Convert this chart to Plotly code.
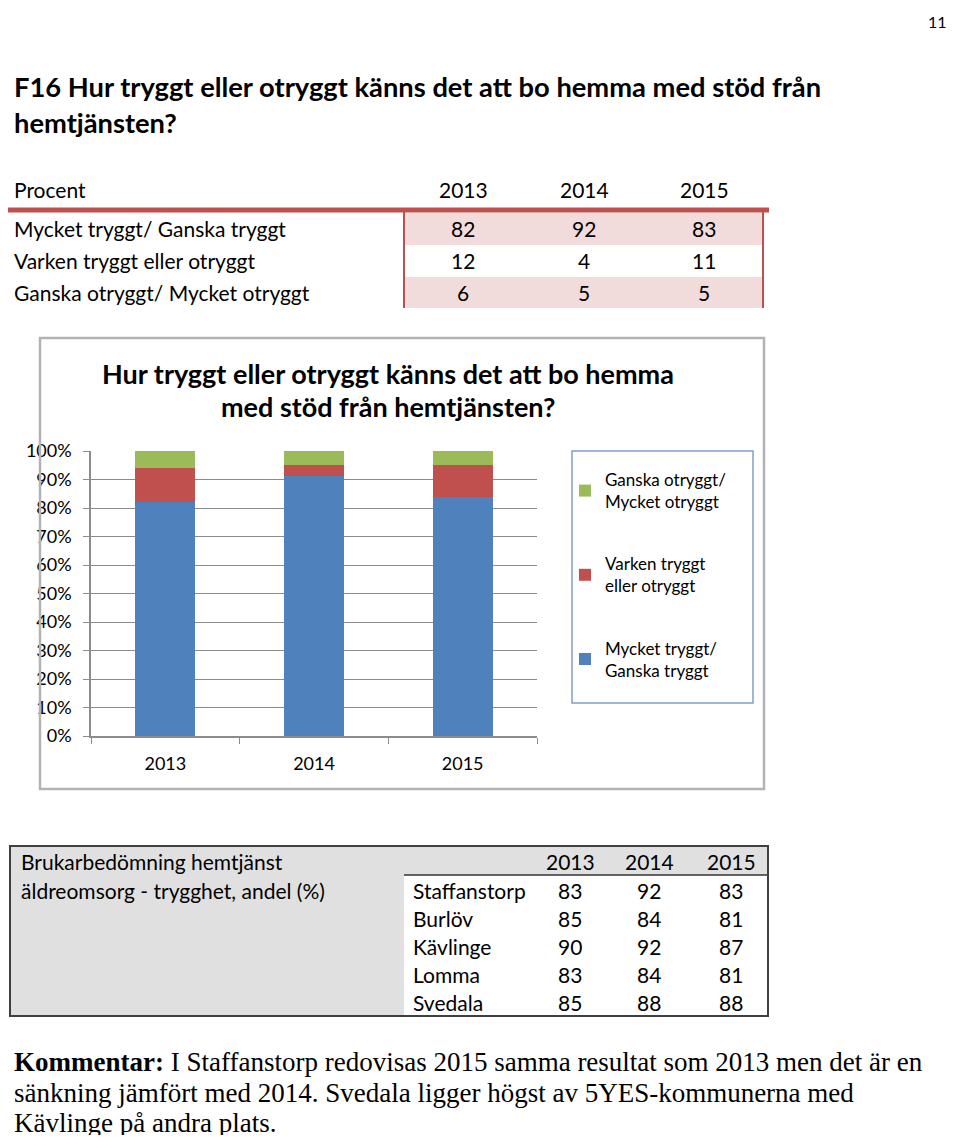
import plotly.graph_objects as go

# ---------------- data ----------------
years = ["2013", "2014", "2015"]
resp_labels = ["Mycket tryggt/ Ganska tryggt", "Varken tryggt eller otryggt", "Ganska otryggt/ Mycket otryggt"]
legend_labels = ["Mycket tryggt/<br>Ganska tryggt", "Varken tryggt<br>eller otryggt", "Ganska otryggt/<br>Mycket otryggt"]
trygg = [82, 92, 83]
varken = [12, 4, 11]
otrygg = [6, 5, 5]
bar_colors = ["#4f81bd", "#c0504d", "#9bbb59"]

municipalities = ["Staffanstorp", "Burlöv", "Kävlinge", "Lomma", "Svedala"]
muni_2013 = [83, 85, 90, 83, 85]
muni_2014 = [92, 84, 92, 84, 88]
muni_2015 = [83, 81, 87, 81, 88]

page_title_lines = ["F16 Hur tryggt eller otryggt känns det att bo hemma med stöd från", "hemtjänsten?"]
chart_title_lines = ["Hur tryggt eller otryggt känns det att bo hemma", "med stöd från hemtjänsten?"]
table2_title = ["Brukarbedömning hemtjänst", "äldreomsorg - trygghet, andel (%)"]
comment_bold = "Kommentar:"
comment_lines = [" I Staffanstorp redovisas 2015 samma resultat som 2013 men det är en",
                 "sänkning jämfört med 2014. Svedala ligger högst av 5YES-kommunerna med",
                 "Kävlinge på andra plats."]

# page is 960x1148; browser body margin of 8px surrounds the figure
M = 8
W, H = 960 - 2 * M, 1148 - 2 * M
def px(x):
    return (x - M) / W
def py(y):
    return 1 - (y - M) / H

SANS = "Lato"
SERIF = "Liberation Serif"

fig = go.Figure()
series = [trygg, varken, otrygg]
ranks = [3, 2, 1]
for i in range(3):
    fig.add_trace(go.Bar(
        x=years, y=series[i], name=legend_labels[i],
        marker=dict(color=bar_colors[i], line=dict(width=0)),
        legendgroup=str(i), legendrank=ranks[i], hoverinfo="skip",
    ))

ann = []
shapes = []

def text(x, y, s, size, anchor="left", bold=False, family=SANS, color="#000", yanchor="middle", height=None):
    if bold:
        s = "<b>" + s + "</b>"
    d = dict(x=px(x), y=py(y), xref="paper", yref="paper", text=s, showarrow=False,
             xanchor=anchor, yanchor=yanchor, font=dict(size=size, family=family, color=color))
    if height is not None:
        d["height"] = height
        d["valign"] = "middle"
    ann.append(d)

# page number & title
text(949, 10, "11", 16, anchor="right", yanchor="top")
text(12, 86, page_title_lines[0], 27.3, bold=True)
text(12, 122, page_title_lines[1], 27.3, bold=True)

# ---------------- top table ----------------
col_x = [463, 584, 704]
row_y = [228, 260, 292]
shapes.append(dict(type="rect", xref="paper", yref="paper", x0=px(404), x1=px(763), y0=py(213), y1=py(245),
                   fillcolor="#f2dcdb", line=dict(width=0), layer="below"))
shapes.append(dict(type="rect", xref="paper", yref="paper", x0=px(404), x1=px(763), y0=py(277), y1=py(308),
                   fillcolor="#f2dcdb", line=dict(width=0), layer="below"))
shapes.append(dict(type="line", xref="paper", yref="paper", x0=px(0), x1=px(769), y0=py(210), y1=py(210),
                   line=dict(color="#c0504d", width=5)))
for xv in (404, 763):
    shapes.append(dict(type="line", xref="paper", yref="paper", x0=px(xv), x1=px(xv), y0=py(210), y1=py(308),
                       line=dict(color="#c0504d", width=2)))
text(12, 189, "Procent", 21)
for j, yr in enumerate(years):
    text(col_x[j], 189, yr, 21, anchor="center")
for i, lab in enumerate(resp_labels):
    text(12, row_y[i], lab, 21)
    for j in range(3):
        text(col_x[j], row_y[i], str(series[i][j]), 21, anchor="center")

# ---------------- chart frame ----------------
shapes.append(dict(type="rect", xref="paper", yref="paper", x0=px(40), x1=px(764), y0=py(338), y1=py(789),
                   line=dict(color="#b3b3b3", width=2.5), fillcolor="rgba(0,0,0,0)"))
shapes.append(dict(type="rect", xref="paper", yref="paper", x0=px(572), x1=px(753), y0=py(451), y1=py(703),
                   line=dict(color="#7f9fcb", width=1.5), fillcolor="rgba(0,0,0,0)"))
text(388, 373, chart_title_lines[0], 27, anchor="center", bold=True)
text(388, 406, chart_title_lines[1], 27, anchor="center", bold=True)

# ---------------- bottom table ----------------
shapes.append(dict(type="rect", xref="paper", yref="paper", x0=px(10), x1=px(768), y0=py(846), y1=py(1016),
                   fillcolor="#e0e0e0", line=dict(width=0), layer="below"))
shapes.append(dict(type="rect", xref="paper", yref="paper", x0=px(404), x1=px(768), y0=py(875), y1=py(1016),
                   fillcolor="#ffffff", line=dict(width=0), layer="below"))
shapes.append(dict(type="line", xref="paper", yref="paper", x0=px(404), x1=px(768), y0=py(875), y1=py(875),
                   line=dict(color="#333333", width=1.5)))
shapes.append(dict(type="rect", xref="paper", yref="paper", x0=px(10), x1=px(768), y0=py(846), y1=py(1016),
                   line=dict(color="#404040", width=2), fillcolor="rgba(0,0,0,0)"))
text(19, 861, table2_title[0], 21)
text(19, 890, table2_title[1], 21)
col2_x = [570, 649, 731]
for j, yr in enumerate(years):
    text(col2_x[j], 861, yr, 21, anchor="center")
muni_vals = [muni_2013, muni_2014, muni_2015]
for i, m in enumerate(municipalities):
    yy = 890 + 28 * i
    text(411, yy, m, 21)
    for j in range(3):
        text(col2_x[j], yy, str(muni_vals[j][i]), 21, anchor="center")

# ---------------- comment ----------------
text(12, 1062, "<b>" + comment_bold + "</b>" + comment_lines[0], 27, family=SERIF)
text(12, 1093, comment_lines[1], 27, family=SERIF)
text(12, 1123, comment_lines[2], 27, family=SERIF, height=24)

fig.update_layout(
    width=W, height=H, margin=dict(l=0, r=0, t=0, b=0, pad=0, autoexpand=False),
    paper_bgcolor="white", plot_bgcolor="white",
    barmode="stack", barnorm="percent", bargap=0.595,
    annotations=ann, shapes=shapes,
    showlegend=True,
    legend=dict(x=px(565), y=py(462), xanchor="left", yanchor="top",
                traceorder="grouped", tracegroupgap=37,
                font=dict(size=17, family=SANS, color="#000"),
                bgcolor="rgba(0,0,0,0)", borderwidth=0),
    xaxis=dict(domain=[px(91), px(537)], type="category", showline=True, linecolor="#8c8c8c", linewidth=1.5,
               ticks="outside", tickson="boundaries", ticklen=6, tickcolor="#8c8c8c", ticklabelstandoff=11,
               tickfont=dict(size=18, family=SANS, color="#000"), showgrid=False, automargin=False),
    yaxis=dict(domain=[py(736), py(451)], range=[0, 100], dtick=10, ticksuffix="%",
               showline=True, linecolor="#8c8c8c", linewidth=1.5, ticks="outside", ticklen=6,
               tickcolor="#8c8c8c", gridcolor="#8c8c8c", gridwidth=1.2, ticklabelstandoff=8,
               tickfont=dict(size=18, family=SANS, color="#000"), zeroline=False, automargin=False),
)

fig.write_html("out.html")
